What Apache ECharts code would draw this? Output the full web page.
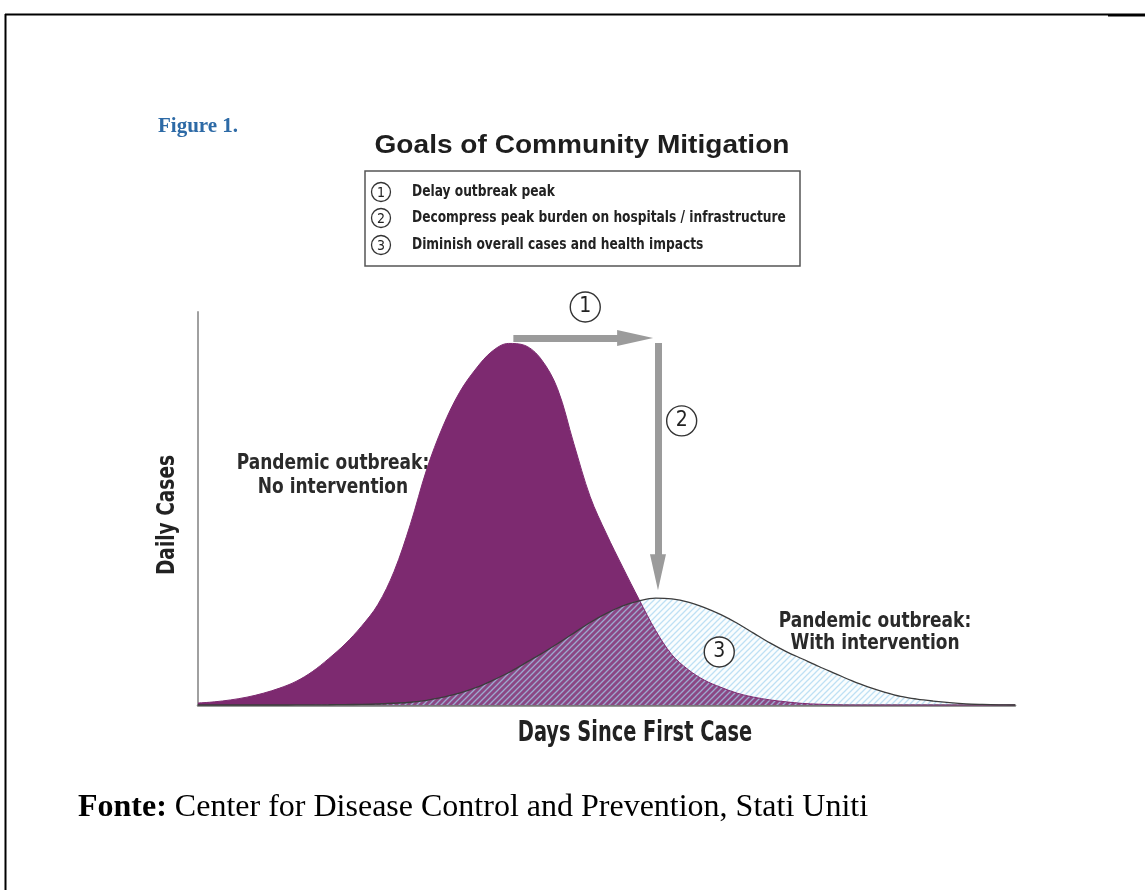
<!DOCTYPE html>
<html>
<head>
<meta charset="utf-8">
<script src="https://cdn.jsdelivr.net/npm/echarts@6/dist/echarts.min.js"></script>
<style>
  html, body { margin: 0; padding: 0; background: #fff; }
  #main { width: 1145px; height: 890px; }
</style>
</head>
<body>
<div id="main"></div>
<script type="text/javascript">
// days since first case (x) and daily cases (y, relative scale 0-100)
var days = [0, 2, 4, 6, 8, 10, 12, 14, 16, 18, 20, 22, 24, 26, 28, 30, 32, 34, 36, 38, 40, 42, 44, 46, 48, 50,
            52, 54, 56, 58, 60, 62, 64, 66, 68, 70, 72, 74, 76, 78, 80, 82, 84, 86, 88, 90, 92, 94, 96, 98, 100];
var noIntervention = [0.5, 0.8, 1.3, 2, 3, 4.3, 6, 8.5, 11.8, 15.5, 20, 25.5, 34, 46, 60, 71, 79.5, 85.5, 90, 92, 91.5, 88, 80.5, 66.5, 53, 43.5,
            35, 26.8, 19, 12.8, 9, 6.3, 4.5, 3, 2, 1.3, 0.8, 0.4, 0.2, 0.05, 0, 0, 0, 0, 0, 0, 0, 0, 0, 0, 0];
var withIntervention = [0, 0, 0, 0, 0, 0, 0.01, 0.03, 0.06, 0.1, 0.15, 0.25, 0.45, 0.7, 1.2, 2, 3, 4.4, 6.2, 8.2, 10.6, 13, 15.6, 18.3, 21, 23.3,
            25.2, 26.5, 27.2, 27, 26.2, 24.8, 23, 20.8, 18.3, 15.8, 13.6, 11.7, 9.8, 8, 6.2, 4.6, 3.3, 2.2, 1.5, 1, 0.6, 0.3, 0.15, 0.05, 0];

var goals = ['Delay outbreak peak',
             'Decompress peak burden on hospitals / infrastructure',
             'Diminish overall cases and health impacts'];
// annotations in data space
var delayArrow = [[38.6, 93.4], [53.5, 93.4]];
var decompressArrow = [[56.3, 92.1], [56.3, 33.8]];
var badges = [['1', 47.4, 100, -5], ['2', 59.2, 72.3, 0], ['3', 63.8, 13.5, 0]];

var cond = '"Liberation Sans Narrow", "DejaVu Sans Condensed", "Arial Narrow", sans-serif';
var serif = '"Liberation Serif", "Times New Roman", serif';

// diagonal hatch for the mitigated curve
function hatch() {
    var c = document.createElement('canvas');
    c.width = 6; c.height = 6;
    var g = c.getContext('2d');
    g.fillStyle = 'rgba(220,240,250,0.15)';
    g.fillRect(0, 0, 6, 6);
    g.strokeStyle = 'rgba(165,212,240,0.7)';
    g.lineWidth = 1.3;
    g.beginPath();
    g.moveTo(0, 6); g.lineTo(6, 0);
    g.moveTo(-3, 3); g.lineTo(3, -3);
    g.moveTo(3, 9); g.lineTo(9, 3);
    g.stroke();
    return c;
}

function pairs(ys) {
    return days.map(function (d, i) { return [d, ys[i]]; });
}

var myChart = echarts.init(document.getElementById('main'));

var graphic = [
    // page frame
    { type: 'line', shape: { x1: 5, y1: 14.5, x2: 1108, y2: 14.5 }, style: { stroke: '#000', lineWidth: 2 } },
    { type: 'line', shape: { x1: 1108, y1: 15, x2: 1145, y2: 15 }, style: { stroke: '#000', lineWidth: 3 } },
    { type: 'line', shape: { x1: 5.5, y1: 14, x2: 5.5, y2: 890 }, style: { stroke: '#000', lineWidth: 2 } },
    { type: 'text', x: 158, y: 127, style: { text: 'Figure 1.', fill: '#2d6aa6', font: 'bold 21px ' + serif, verticalAlign: 'middle' } },
    { type: 'text', x: 582, y: 146, scaleX: 1.08, style: { text: 'Goals of Community Mitigation', fill: '#1e1e1e', font: 'bold 26px "Liberation Sans", Arial, sans-serif', align: 'center', verticalAlign: 'middle' } },
    { type: 'rect', shape: { x: 365, y: 171, width: 435, height: 95 }, style: { fill: '#fff', stroke: '#555', lineWidth: 1.5 } },
    // curve labels
    { type: 'text', x: 333, y: 476, scaleX: 0.9, style: { text: 'Pandemic outbreak:\nNo intervention', fill: '#2a2a2a', font: 'bold 21px ' + cond, align: 'center', verticalAlign: 'middle', lineHeight: 24 } },
    { type: 'text', x: 875, y: 633, scaleX: 0.9, style: { text: 'Pandemic outbreak:\nWith intervention', fill: '#2a2a2a', font: 'bold 21px ' + cond, align: 'center', verticalAlign: 'middle', lineHeight: 22 } },
    // axis titles
    { type: 'text', x: 635, y: 734, scaleX: 0.77, style: { text: 'Days Since First Case', fill: '#222', font: 'bold 28px ' + cond, align: 'center', verticalAlign: 'middle' } },
    { type: 'text', x: 168, y: 515, rotation: Math.PI / 2, scaleX: 0.86, style: { text: 'Daily Cases', fill: '#222', font: 'bold 24px ' + cond, align: 'center', verticalAlign: 'middle' } },
    // source
    { type: 'text', x: 78, y: 808, style: { text: '{b|Fonte:} Center for Disease Control and Prevention, Stati Uniti', fill: '#000', font: '32px ' + serif, verticalAlign: 'middle',
        rich: { b: { fontWeight: 'bold', fontSize: 32, fontFamily: serif } } } }
];
var rowY = [192, 218, 245];
goals.forEach(function (g, i) {
    graphic.push({ type: 'circle', shape: { cx: 381, cy: rowY[i], r: 9.5 }, style: { fill: '#fff', stroke: '#333', lineWidth: 1.3 } });
    graphic.push({ type: 'text', x: 381, y: rowY[i] + 1, style: { text: String(i + 1), fill: '#222', font: '14px ' + cond, align: 'center', verticalAlign: 'middle' } });
    graphic.push({ type: 'text', x: 412, y: rowY[i], scaleX: 0.85, style: { text: g, fill: '#222', font: 'bold 16px ' + cond, verticalAlign: 'middle' } });
});

option = {
    backgroundColor: '#fff',
    animation: false,
    grid: { left: 198, right: 130, top: 312, bottom: 185 },
    xAxis: {
        type: 'value', min: 0, max: 100,
        axisLine: { lineStyle: { color: '#777', width: 2.5 } },
        axisTick: { show: false }, axisLabel: { show: false }, splitLine: { show: false }
    },
    yAxis: {
        type: 'value', min: 0, max: 100,
        axisLine: { show: true, lineStyle: { color: '#a0a0a0', width: 2 } },
        axisTick: { show: false }, axisLabel: { show: false }, splitLine: { show: false }
    },
    series: [
        {
            name: 'No intervention', type: 'line', smooth: 0.35, symbol: 'none', clip: false,
            data: pairs(noIntervention),
            lineStyle: { color: '#7d2a70', width: 1 },
            areaStyle: { color: '#7d2a70', opacity: 1 }
        },
        {
            name: 'With intervention', type: 'line', smooth: 0.35, symbol: 'none', clip: false,
            data: pairs(withIntervention),
            lineStyle: { color: '#3c3c3c', width: 1.3 },
            areaStyle: { color: { image: hatch(), repeat: 'repeat' }, opacity: 1 },
            markLine: {
                silent: true, symbol: ['none', 'triangle'], symbolSize: [16, 36],
                label: { show: false },
                lineStyle: { color: '#9b9b9b', width: 7, type: 'solid' },
                data: [
                    [{ coord: delayArrow[0] }, { coord: delayArrow[1] }],
                    [{ coord: decompressArrow[0] }, { coord: decompressArrow[1] }]
                ]
            },
            markPoint: {
                silent: true, symbol: 'circle', symbolSize: 30,
                itemStyle: { color: '#fff', borderColor: '#333', borderWidth: 1.4 },
                label: { show: true, position: 'inside', color: '#222', fontSize: 21, fontFamily: cond, formatter: '{b}' },
                data: badges.map(function (b) {
                    return { name: b[0], coord: [b[1], b[2]], symbolOffset: [0, b[3]] };
                })
            }
        }
    ],
    graphic: graphic
};

myChart.setOption(option, true);
</script>
</body>
</html>
